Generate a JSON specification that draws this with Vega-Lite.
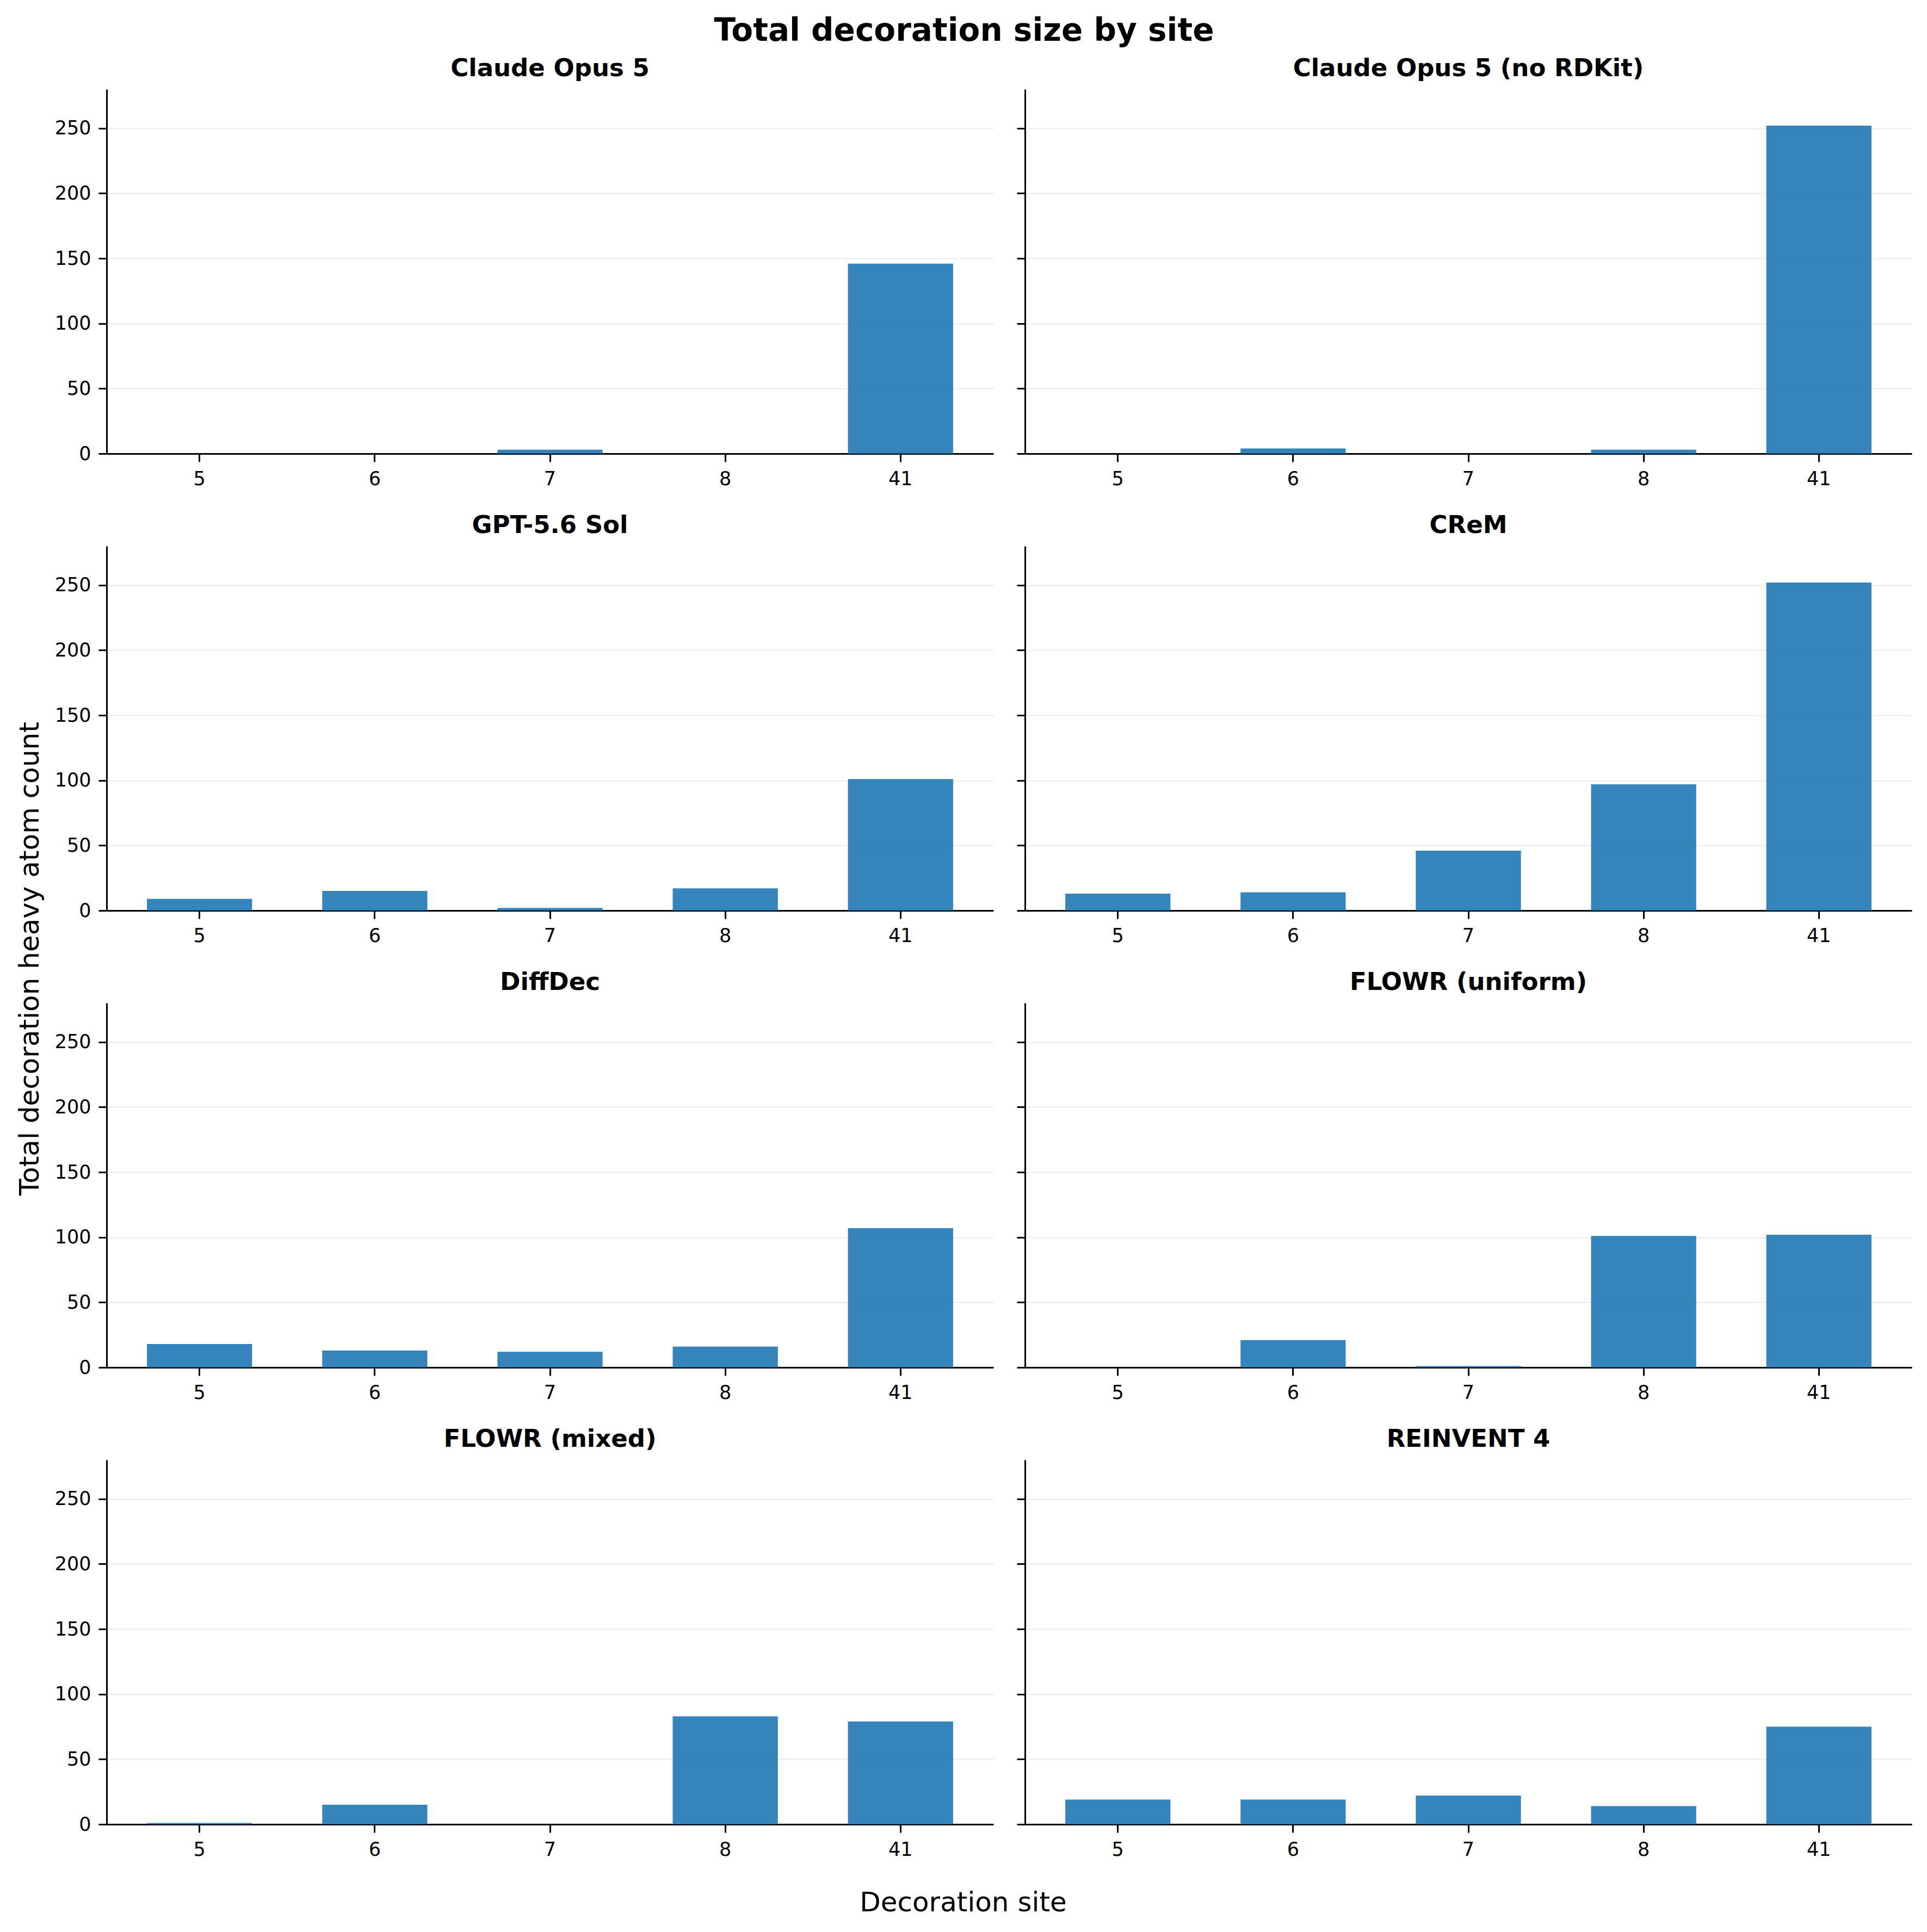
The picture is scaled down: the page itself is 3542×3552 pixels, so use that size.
{
  "$schema": "https://vega.github.io/schema/vega-lite/v6.json",
  "padding": {"left": 30, "top": 29, "right": 28, "bottom": 28},
  "background": "white",
  "title": {"text": "Total decoration size by site", "fontSize": 58, "fontWeight": "bold", "anchor": "middle", "offset": 17, "color": "black"},
  "data": {"values": [
    {"model": "Claude Opus 5", "site": "5", "value": 0},
    {"model": "Claude Opus 5", "site": "6", "value": 0},
    {"model": "Claude Opus 5", "site": "7", "value": 3},
    {"model": "Claude Opus 5", "site": "8", "value": 0},
    {"model": "Claude Opus 5", "site": "41", "value": 146},
    {"model": "Claude Opus 5 (no RDKit)", "site": "5", "value": 0},
    {"model": "Claude Opus 5 (no RDKit)", "site": "6", "value": 4},
    {"model": "Claude Opus 5 (no RDKit)", "site": "7", "value": 0},
    {"model": "Claude Opus 5 (no RDKit)", "site": "8", "value": 3},
    {"model": "Claude Opus 5 (no RDKit)", "site": "41", "value": 252},
    {"model": "GPT-5.6 Sol", "site": "5", "value": 9},
    {"model": "GPT-5.6 Sol", "site": "6", "value": 15},
    {"model": "GPT-5.6 Sol", "site": "7", "value": 2},
    {"model": "GPT-5.6 Sol", "site": "8", "value": 17},
    {"model": "GPT-5.6 Sol", "site": "41", "value": 101},
    {"model": "CReM", "site": "5", "value": 13},
    {"model": "CReM", "site": "6", "value": 14},
    {"model": "CReM", "site": "7", "value": 46},
    {"model": "CReM", "site": "8", "value": 97},
    {"model": "CReM", "site": "41", "value": 252},
    {"model": "DiffDec", "site": "5", "value": 18},
    {"model": "DiffDec", "site": "6", "value": 13},
    {"model": "DiffDec", "site": "7", "value": 12},
    {"model": "DiffDec", "site": "8", "value": 16},
    {"model": "DiffDec", "site": "41", "value": 107},
    {"model": "FLOWR (uniform)", "site": "5", "value": 0},
    {"model": "FLOWR (uniform)", "site": "6", "value": 21},
    {"model": "FLOWR (uniform)", "site": "7", "value": 1},
    {"model": "FLOWR (uniform)", "site": "8", "value": 101},
    {"model": "FLOWR (uniform)", "site": "41", "value": 102},
    {"model": "FLOWR (mixed)", "site": "5", "value": 1},
    {"model": "FLOWR (mixed)", "site": "6", "value": 15},
    {"model": "FLOWR (mixed)", "site": "7", "value": 0},
    {"model": "FLOWR (mixed)", "site": "8", "value": 83},
    {"model": "FLOWR (mixed)", "site": "41", "value": 79},
    {"model": "REINVENT 4", "site": "5", "value": 19},
    {"model": "REINVENT 4", "site": "6", "value": 19},
    {"model": "REINVENT 4", "site": "7", "value": 22},
    {"model": "REINVENT 4", "site": "8", "value": 14},
    {"model": "REINVENT 4", "site": "41", "value": 75}
  ]},
  "columns": 2,
  "spacing": {"row": 170, "column": 58},
  "bounds": "flush",
  "concat": [
    {
      "title": "Claude Opus 5",
      "width": 1630, "height": 670,
      "transform": [{"filter": "datum.model === 'Claude Opus 5'"}],
      "mark": "bar",
      "encoding": {
        "x": {"field": "site", "type": "nominal", "sort": null, "scale": {"domain": ["5","6","7","8","41"], "paddingInner": 0.4, "paddingOuter": 0.23}, "axis": {"title": null}},
        "y": {"field": "value", "type": "quantitative", "scale": {"domain": [0, 280], "nice": false}, "axis": {"title": null, "values": [0, 50, 100, 150, 200, 250]}}
      }
    },
    {
      "title": "Claude Opus 5 (no RDKit)",
      "width": 1630, "height": 670,
      "transform": [{"filter": "datum.model === 'Claude Opus 5 (no RDKit)'"}],
      "mark": "bar",
      "encoding": {
        "x": {"field": "site", "type": "nominal", "sort": null, "scale": {"domain": ["5","6","7","8","41"], "paddingInner": 0.4, "paddingOuter": 0.23}, "axis": {"title": null}},
        "y": {"field": "value", "type": "quantitative", "scale": {"domain": [0, 280], "nice": false}, "axis": {"title": null, "labels": false, "values": [0, 50, 100, 150, 200, 250]}}
      }
    },
    {
      "title": "GPT-5.6 Sol",
      "width": 1630, "height": 670,
      "transform": [{"filter": "datum.model === 'GPT-5.6 Sol'"}],
      "mark": "bar",
      "encoding": {
        "x": {"field": "site", "type": "nominal", "sort": null, "scale": {"domain": ["5","6","7","8","41"], "paddingInner": 0.4, "paddingOuter": 0.23}, "axis": {"title": null}},
        "y": {"field": "value", "type": "quantitative", "scale": {"domain": [0, 280], "nice": false}, "axis": {"title": "Total decoration heavy atom count", "values": [0, 50, 100, 150, 200, 250], "titleX": -126, "titleY": 758, "titleAngle": 270, "titleAlign": "center", "titleBaseline": "alphabetic"}}
      }
    },
    {
      "title": "CReM",
      "width": 1630, "height": 670,
      "transform": [{"filter": "datum.model === 'CReM'"}],
      "mark": "bar",
      "encoding": {
        "x": {"field": "site", "type": "nominal", "sort": null, "scale": {"domain": ["5","6","7","8","41"], "paddingInner": 0.4, "paddingOuter": 0.23}, "axis": {"title": null}},
        "y": {"field": "value", "type": "quantitative", "scale": {"domain": [0, 280], "nice": false}, "axis": {"title": null, "labels": false, "values": [0, 50, 100, 150, 200, 250]}}
      }
    },
    {
      "title": "DiffDec",
      "width": 1630, "height": 670,
      "transform": [{"filter": "datum.model === 'DiffDec'"}],
      "mark": "bar",
      "encoding": {
        "x": {"field": "site", "type": "nominal", "sort": null, "scale": {"domain": ["5","6","7","8","41"], "paddingInner": 0.4, "paddingOuter": 0.23}, "axis": {"title": null}},
        "y": {"field": "value", "type": "quantitative", "scale": {"domain": [0, 280], "nice": false}, "axis": {"title": null, "values": [0, 50, 100, 150, 200, 250]}}
      }
    },
    {
      "title": "FLOWR (uniform)",
      "width": 1630, "height": 670,
      "transform": [{"filter": "datum.model === 'FLOWR (uniform)'"}],
      "mark": "bar",
      "encoding": {
        "x": {"field": "site", "type": "nominal", "sort": null, "scale": {"domain": ["5","6","7","8","41"], "paddingInner": 0.4, "paddingOuter": 0.23}, "axis": {"title": null}},
        "y": {"field": "value", "type": "quantitative", "scale": {"domain": [0, 280], "nice": false}, "axis": {"title": null, "labels": false, "values": [0, 50, 100, 150, 200, 250]}}
      }
    },
    {
      "title": "FLOWR (mixed)",
      "width": 1630, "height": 670,
      "transform": [{"filter": "datum.model === 'FLOWR (mixed)'"}],
      "mark": "bar",
      "encoding": {
        "x": {"field": "site", "type": "nominal", "sort": null, "scale": {"domain": ["5","6","7","8","41"], "paddingInner": 0.4, "paddingOuter": 0.23}, "axis": {"title": "Decoration site", "titleX": 1574, "titleY": 159, "titleAlign": "center", "titleBaseline": "alphabetic"}},
        "y": {"field": "value", "type": "quantitative", "scale": {"domain": [0, 280], "nice": false}, "axis": {"title": null, "values": [0, 50, 100, 150, 200, 250]}}
      }
    },
    {
      "title": "REINVENT 4",
      "width": 1630, "height": 670,
      "transform": [{"filter": "datum.model === 'REINVENT 4'"}],
      "mark": "bar",
      "encoding": {
        "x": {"field": "site", "type": "nominal", "sort": null, "scale": {"domain": ["5","6","7","8","41"], "paddingInner": 0.4, "paddingOuter": 0.23}, "axis": {"title": null}},
        "y": {"field": "value", "type": "quantitative", "scale": {"domain": [0, 280], "nice": false}, "axis": {"title": null, "labels": false, "values": [0, 50, 100, 150, 200, 250]}}
      }
    }
  ],
  "config": {
    "font": "DejaVu Sans",
    "view": {"stroke": null},
    "axis": {
      "domainColor": "black", "domainWidth": 3,
      "tickColor": "black", "tickWidth": 3, "tickSize": 15,
      "labelFontSize": 35, "labelColor": "black", "labelPadding": 14,
      "titleFontSize": 50, "titleFontWeight": "normal", "titleColor": "black",
      "gridColor": "#efefef", "gridWidth": 2.5
    },
    "axisX": {"grid": false, "labelAngle": 0},
    "axisY": {"grid": true},
    "title": {"fontSize": 45, "fontWeight": "bold", "color": "black", "offset": 15},
    "bar": {"color": "#1f77b4", "opacity": 0.9}
  }
}
